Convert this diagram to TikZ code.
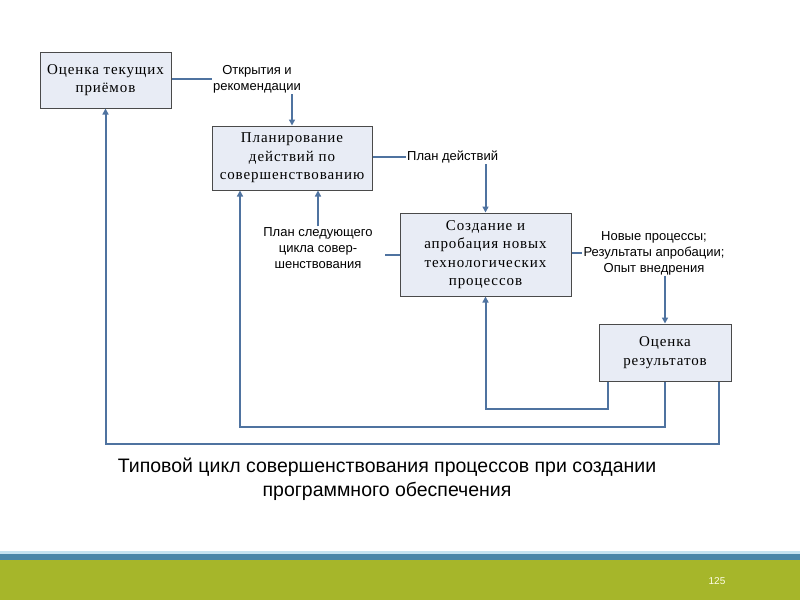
\documentclass[tikz,border=0pt]{standalone}
\usepackage{fontspec}
\setmainfont{Liberation Serif}
\newfontfamily\boxfont[LetterSpace=6]{Liberation Serif}
\newfontfamily\labfont{Liberation Sans}
\usetikzlibrary{arrows.meta,calc}
\definecolor{linec}{HTML}{4F73A0}
\definecolor{boxfill}{HTML}{E8ECF5}
\definecolor{boxline}{HTML}{4A4A4A}
\definecolor{footgreen}{HTML}{A6B62A}
\definecolor{footblue}{HTML}{4A86A8}
\definecolor{footlight}{HTML}{C4E2F0}
\begin{document}
\begin{tikzpicture}[x=1pt,y=-1pt,
  procbox/.style={draw=boxline,line width=1pt,fill=boxfill,align=center,
    font=\boxfont\fontsize{15}{18.5}\selectfont,inner sep=0pt},
  lab/.style={align=center,font=\labfont\fontsize{13}{16}\selectfont,inner sep=1pt},
  conn/.style={draw=linec,line width=2pt},
  arr/.style={conn,-{Triangle[length=6pt,width=6pt]}}]
\useasboundingbox (0,0) rectangle (800,600);
\fill[white] (0,0) rectangle (800,600);
% footer
\fill[footlight] (0,551) rectangle (800,554);
\fill[footblue] (0,554) rectangle (800,560);
\fill[footgreen] (0,560) rectangle (800,600);
\node[text=yellow!10,font=\labfont\fontsize{10}{11}\selectfont] (pnum) at (717,581) {125};
% boxes
\node[procbox,minimum width=131pt,minimum height=56pt] (box1) at (105.5,80) {Оценка текущих\\приёмов};
\node[procbox,minimum width=160pt,minimum height=64pt] (box2) at (292,158) {Планирование\\действий по\\совершенствованию};
\node[procbox,minimum width=171pt,minimum height=83pt] (box3) at (485.5,254.5) {Создание и\\апробация новых\\технологических\\процессов};
\node[procbox,minimum width=132pt,minimum height=57pt] (box4) at (665,352.5) {Оценка\\результатов};
% labels
\node[lab] (lab1) at (257,79) {Открытия и\\рекомендации};
\node[lab,anchor=west] (lab2) at (406,157) {План действий};
\node[lab] (lab3) at (318,248) {План следующего\\цикла совер-\\шенствования};
\node[lab] (lab4) at (654,253) {Новые процессы;\\Результаты апробации;\\Опыт внедрения};
% connectors
\draw[conn] (box1.east |- lab1.west) -- (lab1.west);
\draw[arr] (lab1.south -| box2.north) -- (box2.north);
\draw[conn] (box2.east |- lab2.west) -- (lab2.west);
\draw[arr] (lab2.south -| box3.north) -- (box3.north);
\coordinate (l3e) at (385,255);
\draw[conn] (box3.west |- l3e) -- (l3e);
\draw[arr] (lab3.north) -- (lab3.north |- box2.south);
\draw[conn] (box3.east |- lab4.west) -- (lab4.west);
\draw[arr] (lab4.south -| box4.north) -- (box4.north);
% feedback loops
\coordinate (f1) at (608,409);
\coordinate (f2) at (240,427);
\coordinate (f3) at (719,444);
\draw[arr] (box4.south -| f1) -- (f1) -| (box3.south);
\draw[arr] (box4.south) |- (f2) -- (f2 |- box2.south);
\draw[arr] (box4.south -| f3) -- (f3) -| (box1.south);
% caption
\node[align=center,font=\labfont\fontsize{19.5}{24}\selectfont] (cap) at (387,479) {Типовой цикл совершенствования процессов при создании\\программного обеспечения};
\end{tikzpicture}
\end{document}
